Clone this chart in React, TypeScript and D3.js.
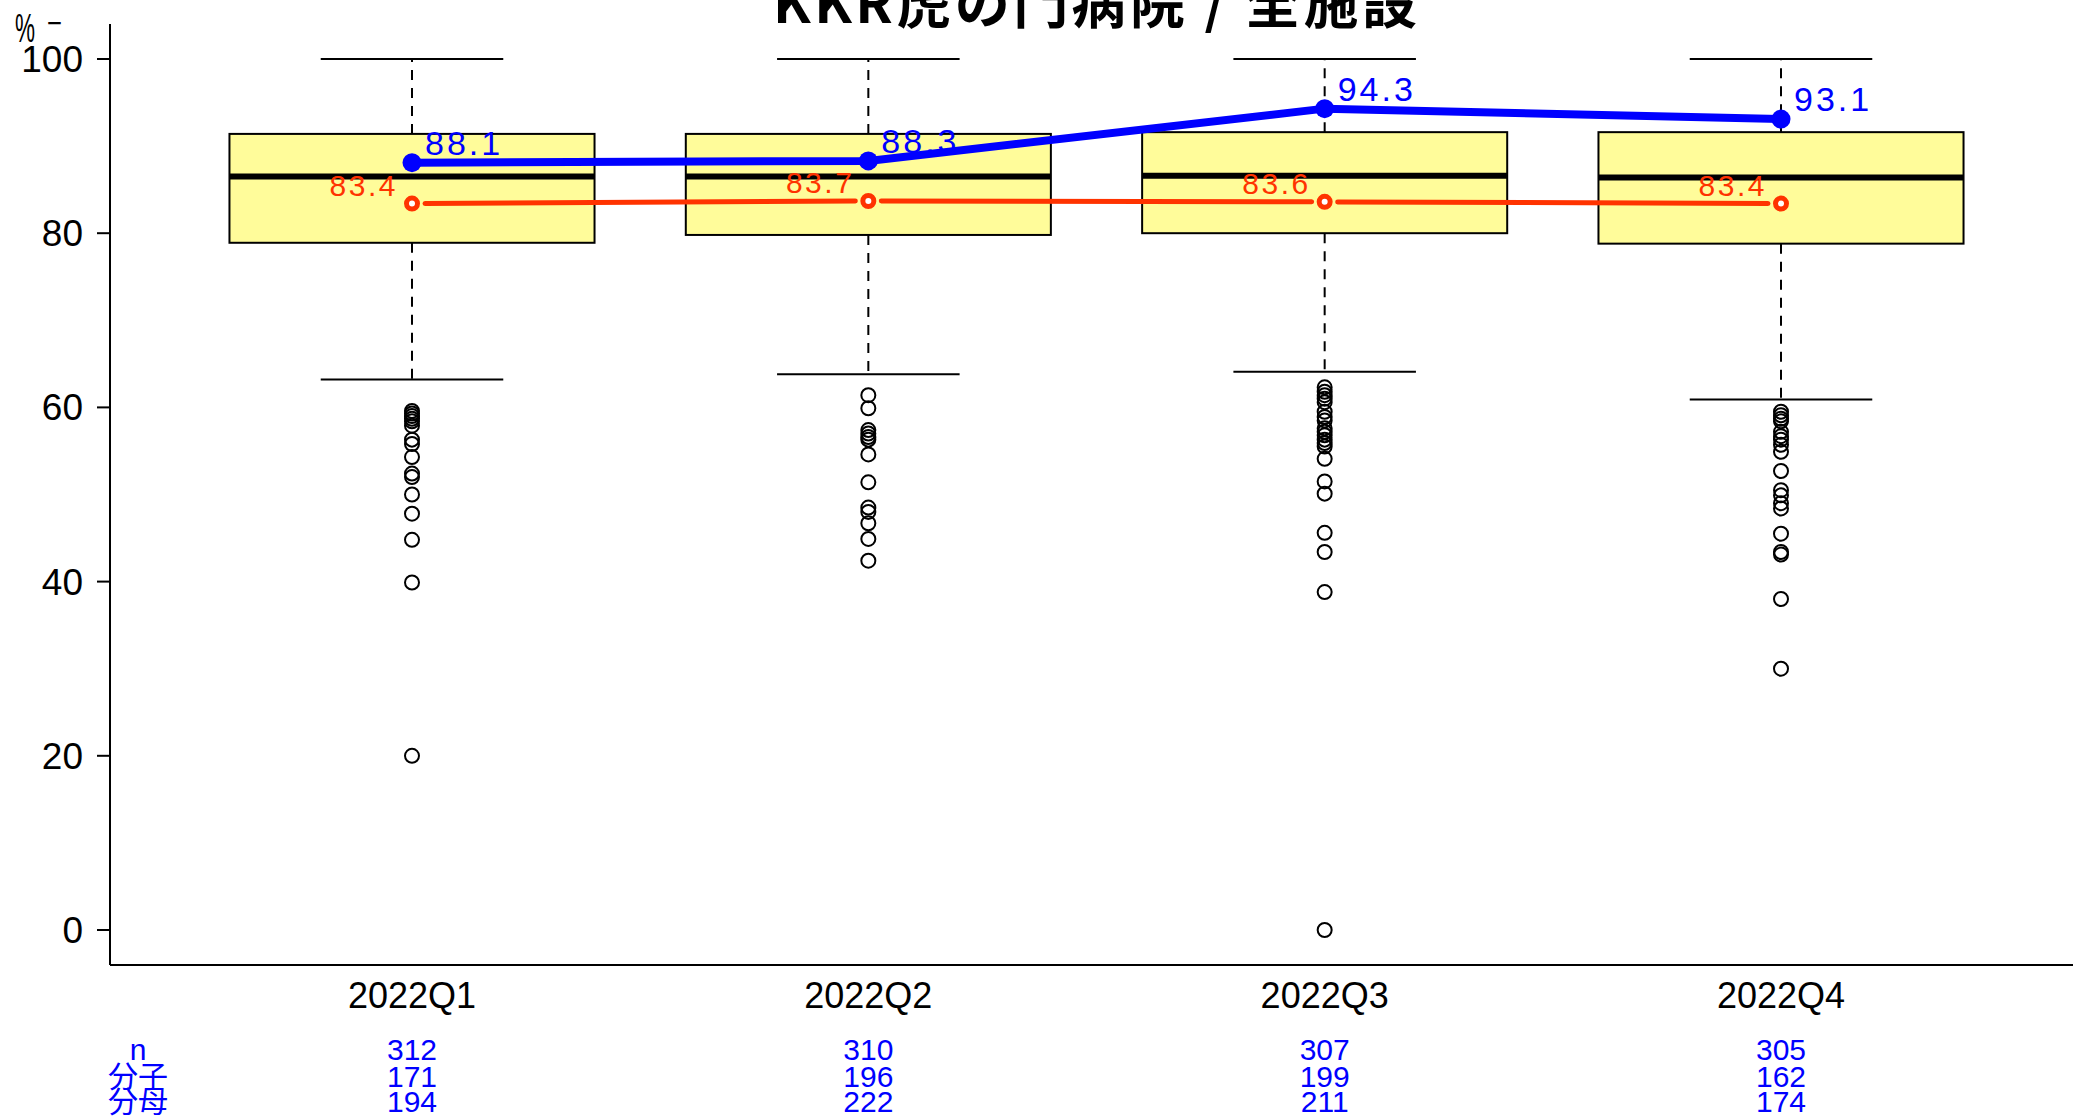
import React from "react";
import * as d3 from "d3";

const categories = ["2022Q1", "2022Q2", "2022Q3", "2022Q4"];
const whiskerHigh = [100, 100, 100, 100];
const boxHigh = [91.4, 91.4, 91.6, 91.6];
const medians = [86.5, 86.5, 86.6, 86.4];
const boxLow = [78.9, 79.8, 80.0, 78.8];
const whiskerLow = [63.2, 63.8, 64.1, 60.9];
const outliers = [
  [59.6, 59.3, 59.0, 58.7, 58.4, 57.9, 56.3, 55.8, 54.3, 52.4, 52.0, 50.0, 47.8, 44.8, 39.9, 20.0],
  [61.4, 59.9, 57.4, 57.0, 56.6, 56.3, 54.6, 51.4, 48.5, 48.0, 46.7, 44.9, 42.4],
  [62.3, 61.8, 61.4, 61.0, 60.6, 59.5, 58.9, 58.5, 57.6, 57.2, 56.8, 56.3, 55.9, 55.5, 54.1, 51.5, 50.1, 45.6, 43.4, 38.8, 0],
  [59.5, 59.1, 58.7, 58.4, 57.2, 56.7, 56.3, 55.7, 54.9, 52.7, 50.5, 49.9, 49.0, 48.4, 45.5, 43.4, 43.1, 38.0, 30.0],
];
const hospitalValues = [88.1, 88.3, 94.3, 93.1];
const allValues = [83.4, 83.7, 83.6, 83.4];
const nValues = [312, 310, 307, 305];
const numerators = [171, 196, 199, 162];
const denominators = [194, 222, 211, 174];
const yTicks = [0, 20, 40, 60, 80, 100];
const tableLabels = ["n", "分子", "分母"];
const title = "KKR虎の門病院 / 全施設";

const W = 2073;
const H = 1116;
const FONT = "'Liberation Sans', Arial, 'Noto Sans CJK JP', sans-serif";

export default function App() {
  const x = d3.scaleLinear().domain([0, 3]).range([412, 1781]);
  const y = d3.scaleLinear().domain([0, 100]).range([930, 59]);
  const step = x(1) - x(0);
  const boxW = step * 0.8;
  const capW = step * 0.4;
  const axisX = 110;
  const axisBottom = 965;
  const axisTop = 24;

  const blueLine = d3
    .line<number>()
    .x((_, i) => x(i))
    .y((d) => y(d));

  const gap = 13;
  const redSegs = allValues.slice(0, -1).map((v, i) => {
    const x1 = x(i), y1 = y(v), x2 = x(i + 1), y2 = y(allValues[i + 1]);
    const len = Math.hypot(x2 - x1, y2 - y1);
    const ux = (x2 - x1) / len, uy = (y2 - y1) / len;
    return { x1: x1 + ux * gap, y1: y1 + uy * gap, x2: x2 - ux * gap, y2: y2 - uy * gap };
  });

  const tableRows = [nValues, numerators, denominators];
  const rowBaselines = [1060, 1087, 1112];

  return (
    <svg
      width={W}
      height={H}
      style={{ position: "absolute", left: 0, top: 0, background: "#fff" }}
      fontFamily={FONT}
    >
      <rect x={0} y={0} width={W} height={H} fill="#fff" />
      <text
        x={1095}
        y={23}
        textAnchor="middle"
        fontSize={55}
        fontWeight="bold"
        fontFamily="'Noto Sans CJK JP', sans-serif"
        textLength={644}
        lengthAdjust="spacing"
      >
        {title}
      </text>
      <text x={15} y={42} fontSize={40} textLength={20} lengthAdjust="spacingAndGlyphs">%</text>
      <text x={47} y={34} fontSize={32} textLength={15} lengthAdjust="spacingAndGlyphs">−</text>

      <line x1={axisX} y1={axisTop} x2={axisX} y2={axisBottom} stroke="#000" strokeWidth={2} />
      <line x1={axisX} y1={axisBottom} x2={W} y2={axisBottom} stroke="#000" strokeWidth={2} />
      {yTicks.map((t) => (
        <g key={t}>
          <line x1={axisX - 13} x2={axisX} y1={y(t)} y2={y(t)} stroke="#000" strokeWidth={2} />
          <text x={83} y={y(t) + 13} textAnchor="end" fontSize={37}>
            {t}
          </text>
        </g>
      ))}
      {categories.map((c, i) => (
        <text key={c} x={x(i)} y={1008} textAnchor="middle" fontSize={36}>
          {c}
        </text>
      ))}

      {categories.map((c, i) => {
        const cx = x(i);
        return (
          <g key={c}>
            <line x1={cx} x2={cx} y1={y(boxHigh[i])} y2={y(whiskerHigh[i])} stroke="#000" strokeWidth={2} strokeDasharray="10,8" />
            <line x1={cx} x2={cx} y1={y(boxLow[i])} y2={y(whiskerLow[i])} stroke="#000" strokeWidth={2} strokeDasharray="10,8" />
            <line x1={cx - capW / 2} x2={cx + capW / 2} y1={y(whiskerHigh[i])} y2={y(whiskerHigh[i])} stroke="#000" strokeWidth={2} />
            <line x1={cx - capW / 2} x2={cx + capW / 2} y1={y(whiskerLow[i])} y2={y(whiskerLow[i])} stroke="#000" strokeWidth={2} />
            <rect
              x={cx - boxW / 2}
              y={y(boxHigh[i])}
              width={boxW}
              height={y(boxLow[i]) - y(boxHigh[i])}
              fill="#FFFC9A"
              stroke="#000"
              strokeWidth={2}
            />
            <line x1={cx - boxW / 2} x2={cx + boxW / 2} y1={y(medians[i])} y2={y(medians[i])} stroke="#000" strokeWidth={6} />
            {outliers[i].map((v, j) => (
              <circle key={j} cx={cx} cy={y(v)} r={7} fill="none" stroke="#000" strokeWidth={2} />
            ))}
          </g>
        );
      })}

      {redSegs.map((s, i) => (
        <line key={i} x1={s.x1} y1={s.y1} x2={s.x2} y2={s.y2} stroke="#FF3300" strokeWidth={5} strokeLinecap="round" />
      ))}
      {allValues.map((v, i) => (
        <g key={i}>
          <circle cx={x(i)} cy={y(v)} r={5.5} fill="#fff" stroke="#FF3300" strokeWidth={5} />
          <text x={x(i) - 14} y={y(v) - 8} textAnchor="end" fontSize={30} fill="#FF3300" letterSpacing={2.5}>
            {v.toFixed(1)}
          </text>
        </g>
      ))}

      <path d={blueLine(hospitalValues) || ""} fill="none" stroke="#0000FF" strokeWidth={8} />
      {hospitalValues.map((v, i) => (
        <g key={i}>
          <circle cx={x(i)} cy={y(v)} r={9.5} fill="#0000FF" />
          <text x={x(i) + 13} y={y(v) - 8} fontSize={34} fill="#0000FF" letterSpacing={3}>
            {v.toFixed(1)}
          </text>
        </g>
      ))}

      {tableLabels.map((l, r) => (
        <text key={l} x={138} y={rowBaselines[r]} textAnchor="middle" fontSize={30} fill="#0000FF"
          fontFamily={r === 0 ? FONT : "'Noto Sans CJK JP', sans-serif"}>
          {l}
        </text>
      ))}
      {tableRows.map((row, r) =>
        row.map((v, i) => (
          <text key={`${r}-${i}`} x={x(i)} y={rowBaselines[r]} textAnchor="middle" fontSize={30} fill="#0000FF">
            {v}
          </text>
        ))
      )}
    </svg>
  );
}
